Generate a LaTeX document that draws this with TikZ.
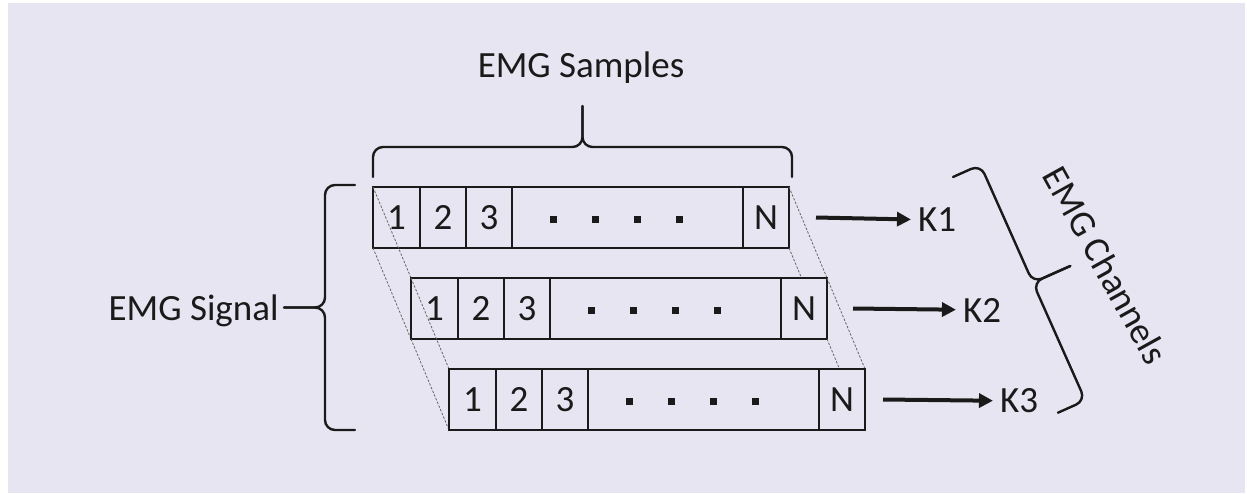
\documentclass[tikz,border=0pt]{standalone}
\usepackage{fontspec}
\setmainfont{Carlito}
\usepackage{xcolor}
\usepackage{tikz}
\usetikzlibrary{positioning,arrows.meta}

\definecolor{lavender}{HTML}{E6E5F1}
\definecolor{ink}{HTML}{1A1A1A}

\tikzset{
  every node/.style={font=\fontsize{18.5}{22}\selectfont, text=ink},
  cell/.style={draw=ink, fill=lavender, line width=1pt, minimum height=30.5pt, inner sep=0pt, outer sep=0pt},
  guide/.style={draw=gray!80!black, line width=0.4pt, dash pattern=on 1.2pt off 0.8pt},
  flow/.style={draw=ink, line width=2pt, -{Triangle[length=7pt,width=7pt]}},
  bracepath/.style={draw=ink, line width=1.2pt, rounded corners=5pt, line cap=round},
  pics/curly/.style={code={
    \draw[bracepath] (0,0) -- (0,-30) -- (#1/2,-30) -- (#1/2,-71);
    \draw[bracepath] (#1,0) -- (#1,-30) -- (#1/2,-30) -- (#1/2,-71);
  }},
}

\begin{document}
\begin{tikzpicture}[x=0.5pt,y=-0.5pt]
    \fill[white] (0,0) rectangle (1247,493);
    \fill[lavender] (8,3) rectangle (1245,493);

    \foreach \r in {1,2,3} {
      \pgfmathtruncatemacro{\p}{\r-1}
      \ifnum\r>1
        \draw[guide] (c\p1.north west) -- ++(38,91);
        \draw[guide] (c\p1.south west) -- ++(38,91);
        \draw[guide] (c\p5.north east) -- ++(38,91);
        \draw[guide] (c\p5.south east) -- ++(38,91);
      \fi
      \node[cell,minimum width=23.5pt,anchor=north west] (c\r1) at ({373+38*(\r-1)},{187+91*(\r-1)}) {1};
      \node[cell,minimum width=23pt,right=0pt of c\r1] (c\r2) {2};
      \node[cell,minimum width=23pt,right=0pt of c\r2] (c\r3) {3};
      \node[cell,minimum width=115.5pt,right=0pt of c\r3] (c\r4) {};
      \node[cell,minimum width=23pt,right=0pt of c\r4] (c\r5) {N};
      \foreach \i in {0,...,3}
        \fill[ink] ([shift={(-78+42*\i,-1.5)}]c\r4.center) rectangle ++(7,7);
    }

    \node (k1) at (937,220) {K1};
    \node (k2) at (982,310) {K2};
    \node (k3) at (1019,401) {K3};
    \draw[flow] ([xshift=13.5pt]c15.east) -- (k1);
    \draw[flow] ([xshift=13pt]c25.east) -- (k2);
    \draw[flow] ([xshift=9pt]c35.east) -- (k3);

    \pic (samples) at (373,177) {curly=419};
    \pic[rotate=90] (signal) at (355,430) {curly=245};
    \pic[rotate=-66] (channels) at (953,177) {curly=258};

    \node[anchor=base] (samplestext) at (581,77) {EMG Samples};
    \node[anchor=base east, inner sep=1pt] (signaltext) at (281,320) {EMG Signal};
    \node[rotate=-61] (channelstext) at (1106,265) {EMG Channels};
\end{tikzpicture}
\end{document}
